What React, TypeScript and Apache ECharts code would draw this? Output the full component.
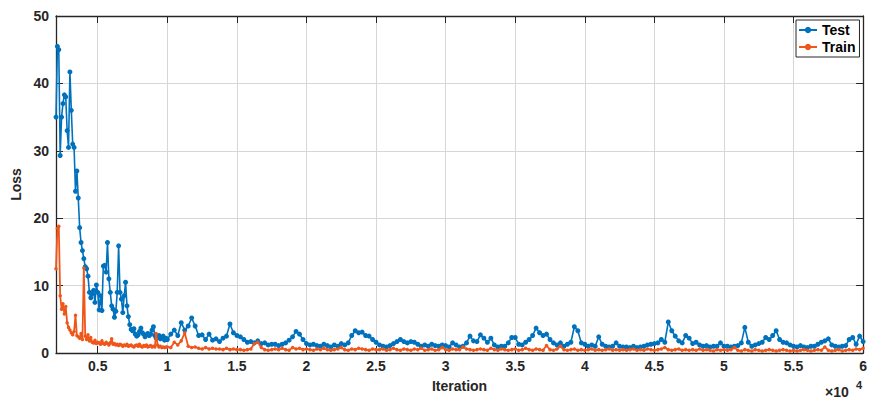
import React, { useEffect, useRef } from "react";
import * as echarts from "echarts";

// Iteration axis description
const EARLY_START = 2000;
const EARLY_STEP = 100;
const LATE_START = 10000;
const LATE_STEP = 250;
const X_MIN = 2000;
const X_MAX = 60000;

// Test loss, iterations 2000..9900 (every 100)
const TEST_EARLY = [
  35, 45.5, 45, 29.3, 35, 37, 38.3, 38, 33, 30.5,
  41.7, 36, 31, 30.5, 24, 27, 23, 18.6, 16.4, 15.2,
  14, 12.8, 12.5, 11.4, 9, 8.2, 8.8, 9.3, 7.5, 10.1,
  9, 6.4, 8.5, 6.3, 12.9, 13, 12, 16.4, 11, 9,
  7, 6.5, 5.3, 6.2, 9, 15.9, 9, 8, 6, 8.5,
  10.5, 7, 5.4, 4.2, 3.5, 3.3, 3.6, 2.8, 2.5, 2.7,
  3.2, 3.7, 3, 2.8, 2.4, 2.7, 2.9, 2.6, 2.8, 3.4,
  3.9, 2.6, 2.2, 2.3, 2.6, 2.1, 2.3, 2.5, 1.9, 2.2,
];

// Test loss, iterations 10000..60000 (every 250)
const TEST_LATE = [
  2.0, 2.8, 3.4, 2.6, 4.5, 3.4, 4.0, 5.2, 4.0, 2.6,
  2.7, 2.0, 2.8, 1.9, 2.1, 1.7, 2.2, 2.5, 4.3, 3.0,
  2.6, 2.4, 2.0, 1.6, 1.7, 1.5, 1.8, 1.4, 1.5, 1.2,
  1.3,
  1.3, 1.1, 1.3, 1.5, 1.9, 2.4, 3.2, 2.8, 2.0, 1.4,
  1.2, 1.3, 1.1, 1.0, 1.3, 1.1, 0.9, 1.2, 1.0, 1.4,
  1.2, 1.5, 2.6, 3.3, 3.0, 3.1, 2.6, 2.5, 2.0, 1.6,
  1.2, 1.0, 0.9, 1.1, 1.4, 1.7, 2.0, 1.7, 1.5, 1.7,
  1.6, 1.3, 1.0, 1.2, 1.0, 1.3, 1.1, 1.0, 1.2, 1.1,
  0.9, 1.5, 1.2, 0.9, 1.0, 1.5, 2.5, 1.8, 1.7, 2.7,
  2.2, 1.6, 2.2, 1.2, 0.9, 1.0, 1.0, 1.5, 2.3, 2.3,
  1.3, 1.2, 1.6, 2.0, 2.6, 3.7, 3.0, 2.6, 2.8, 2.0,
  1.5, 1.2, 1.5, 1.0, 1.3, 1.6, 3.9, 3.3, 1.5, 1.3,
  1.0, 1.2, 1.0, 2.4, 1.3, 1.0, 0.9, 1.0, 1.5, 1.0,
  0.9, 0.9, 0.8, 1.0, 0.8, 0.9, 1.0, 1.2, 1.3, 1.4,
  1.5, 2.0, 1.6, 4.6, 3.3, 2.5, 1.8, 1.5, 2.6, 2.2,
  1.4, 1.6, 1.2, 1.0, 1.1, 0.9, 1.0, 1.0, 1.5, 1.0,
  1.0, 0.9, 1.0, 1.1, 1.5, 3.8, 1.6, 1.0, 1.2, 1.4,
  1.6, 2.3, 2.0, 2.6, 3.3, 2.0, 1.6, 1.5, 1.2, 1.0,
  0.9, 1.1, 0.9, 0.8, 1.0, 1.0, 1.3, 1.6, 1.8, 2.1,
  1.2, 1.0, 0.9, 1.0, 1.1, 2.0, 2.3, 1.3, 2.5, 1.7,
];

// Train loss, iterations 2000..9900 (every 100)
const TRAIN_EARLY = [
  12.5, 18.5, 18.8, 8.5, 6.5, 7.3, 5.8, 6.9, 4.5, 3.8,
  3.4, 3.0, 2.7, 3.2, 5.6, 2.6, 2.4, 2.2, 2.9, 2.0,
  12.6, 2.5, 2.0, 2.7, 1.8, 2.3, 1.6, 1.5, 1.9, 1.4,
  1.6, 1.5, 1.3, 1.8, 1.4, 1.3, 1.6, 1.4, 1.2, 1.5,
  2.1, 1.3, 1.4, 1.2, 1.3, 1.1, 1.3, 1.2, 1.0, 1.2,
  1.1, 1.3, 1.0, 1.1, 1.2, 1.0, 0.9, 1.1, 1.2, 1.0,
  1.3, 1.0, 0.9, 1.1, 1.0, 1.2, 0.9, 1.0, 1.1, 0.9,
  1.0, 0.9, 2.9, 1.2, 0.9, 1.0, 0.8, 0.9, 0.8, 0.9,
];

// Train loss, iterations 10000..60000 (every 250)
const TRAIN_LATE = [
  0.9, 0.8, 1.6, 1.2, 1.8, 3.0, 1.0, 0.8, 0.9, 0.7,
  0.6, 0.8, 0.6, 0.7, 0.6, 0.6, 0.5, 0.7, 0.5, 0.6,
  0.5, 0.5, 0.4, 0.5, 0.6, 1.4, 1.6, 0.8, 0.5, 0.4,
  0.5,
  0.6, 0.5, 0.7, 0.5, 0.4, 0.8, 0.6, 0.7, 0.5, 0.6,
  0.5, 0.4, 0.6, 0.5, 0.7, 0.5, 0.4, 0.5, 0.6, 0.8,
  0.5, 0.4, 0.6, 0.5, 0.7, 0.6, 0.5, 0.4, 0.6, 0.5,
  0.5, 0.6, 0.4, 0.5, 0.7, 0.5, 0.4, 0.6, 0.5, 0.4,
  0.6, 0.5, 0.7, 0.4, 0.5, 0.6, 0.4, 0.5, 0.8, 0.5,
  0.4, 0.6, 0.5, 0.5, 0.9, 0.6, 0.5, 0.4, 0.5, 0.6,
  0.5, 0.4, 0.7, 0.5, 0.4, 0.6, 0.5, 0.4, 0.5, 0.6,
  0.4, 0.5, 0.7, 0.5, 0.4, 0.6, 0.5, 0.4, 1.1, 0.5,
  0.4, 0.6, 1.0, 0.5, 0.4, 0.5, 0.6, 0.4, 0.5, 0.4,
  0.5, 0.6, 0.4, 0.5, 0.4, 0.5, 0.6, 0.4, 0.5, 0.4,
  0.5, 0.4, 0.5, 0.6, 0.4, 0.5, 0.4, 0.6, 0.5, 0.4,
  0.5, 0.6, 0.8, 0.5, 0.4, 0.5, 0.6, 0.4, 0.5, 0.4,
  0.5, 0.4, 0.6, 0.4, 0.5, 0.4, 0.3, 0.5, 0.4, 0.5,
  0.4, 0.5, 0.8, 0.4, 0.3, 0.5, 0.4, 0.3, 0.5, 0.4,
  0.3, 0.4, 0.5, 0.4, 0.3, 0.4, 0.5, 0.4, 0.3, 0.4,
  0.3, 0.4, 0.5, 0.4, 0.3, 0.4, 0.5, 0.4, 0.9, 0.4,
  0.3, 0.4, 0.5, 0.3, 0.4, 0.5, 0.4, 0.6, 0.5, 0.7,
];

const Y_TICKS = [0, 10, 20, 30, 40, 50];
const SERIES_NAMES = ["Test", "Train"];

const BLUE = "#0072BD";
const ORANGE = "#F0561A";
const AXIS = "#262626";
const FONT = '"Liberation Sans", Arial, Helvetica, sans-serif';

function buildPairs(early: number[], late: number[]): number[][] {
  const out: number[][] = [];
  early.forEach((v, i) => out.push([EARLY_START + i * EARLY_STEP, v]));
  late.forEach((v, i) => out.push([LATE_START + i * LATE_STEP, v]));
  return out;
}

export default function App() {
  const ref = useRef<HTMLDivElement>(null);

  useEffect(() => {
    document.body.style.margin = "0";
    if (!ref.current) return;
    const chart = echarts.init(ref.current, undefined, { renderer: "svg" });

    const axisLine = { show: true, onZero: false, lineStyle: { color: AXIS, width: 1.3 } };
    const tick = { show: true, inside: true, length: 7, lineStyle: { color: AXIS, width: 1 } };
    const labelStyle = { fontFamily: FONT, fontSize: 14, fontWeight: "bold" as const, color: AXIS };

    chart.setOption({
      animation: false,
      backgroundColor: "#ffffff",
      grid: { left: 56, right: 4, top: 16, bottom: 47, containLabel: false },
      legend: {
        data: SERIES_NAMES,
        orient: "vertical",
        left: 796,
        top: 20,
        backgroundColor: "#ffffff",
        borderColor: AXIS,
        borderWidth: 1,
        borderRadius: 0,
        padding: [3, 4, 3, 2],
        itemWidth: 18,
        itemHeight: 8,
        itemGap: 3,
        textStyle: { ...labelStyle, color: "#000" },
      },
      xAxis: [
        {
          type: "value",
          min: X_MIN,
          max: X_MAX,
          minInterval: 5000,
          maxInterval: 5000,
          position: "bottom",
          axisLine,
          axisTick: tick,
          axisLabel: {
            ...labelStyle,
            margin: 6,
            showMinLabel: true,
            showMaxLabel: true,
            formatter: (v: number) => (v % 5000 === 0 ? String(v / 10000) : ""),
          },
          splitLine: { show: true, lineStyle: { color: "#d6d6d6", width: 1 } },
          name: "Iteration",
          nameLocation: "middle",
          nameGap: 26,
          nameTextStyle: labelStyle,
        },
        {
          type: "value",
          min: X_MIN,
          max: X_MAX,
          minInterval: 5000,
          maxInterval: 5000,
          position: "top",
          axisLine,
          axisTick: tick,
          axisLabel: { show: false },
          splitLine: { show: false },
        },
      ],
      yAxis: [
        {
          type: "value",
          min: 0,
          max: 50,
          interval: 10,
          position: "left",
          axisLine,
          axisTick: tick,
          axisLabel: {
            ...labelStyle,
            margin: 7,
            formatter: (v: number) => (Y_TICKS.includes(v) ? String(v) : ""),
          },
          splitLine: { show: true, lineStyle: { color: "#d6d6d6", width: 1 } },
          name: "Loss",
          nameLocation: "middle",
          nameGap: 27,
          nameTextStyle: labelStyle,
        },
        {
          type: "value",
          min: 0,
          max: 50,
          interval: 10,
          position: "right",
          axisLine,
          axisTick: tick,
          axisLabel: { show: false },
          splitLine: { show: false },
        },
      ],
      series: [
        {
          name: SERIES_NAMES[0],
          type: "line",
          xAxisIndex: 0,
          yAxisIndex: 0,
          data: buildPairs(TEST_EARLY, TEST_LATE),
          symbol: "circle",
          symbolSize: 5,
          showSymbol: true,
          lineStyle: { color: BLUE, width: 1.6 },
          itemStyle: { color: BLUE },
          emphasis: { disabled: true },
          z: 2,
        },
        {
          name: SERIES_NAMES[1],
          type: "line",
          xAxisIndex: 0,
          yAxisIndex: 0,
          data: buildPairs(TRAIN_EARLY, TRAIN_LATE),
          symbol: "circle",
          symbolSize: 3.5,
          showSymbol: true,
          lineStyle: { color: ORANGE, width: 1.8 },
          itemStyle: { color: ORANGE },
          emphasis: { disabled: true },
          z: 3,
        },
      ],
      graphic: [
        {
          type: "text",
          left: 825,
          top: 385,
          style: { text: "×10", font: `bold 14px ${FONT}`, fill: AXIS },
        },
        {
          type: "text",
          left: 856,
          top: 379,
          style: { text: "4", font: `bold 11px ${FONT}`, fill: AXIS },
        },
      ],
    });

    return () => chart.dispose();
  }, []);

  return <div ref={ref} style={{ width: 870, height: 400 }} />;
}
